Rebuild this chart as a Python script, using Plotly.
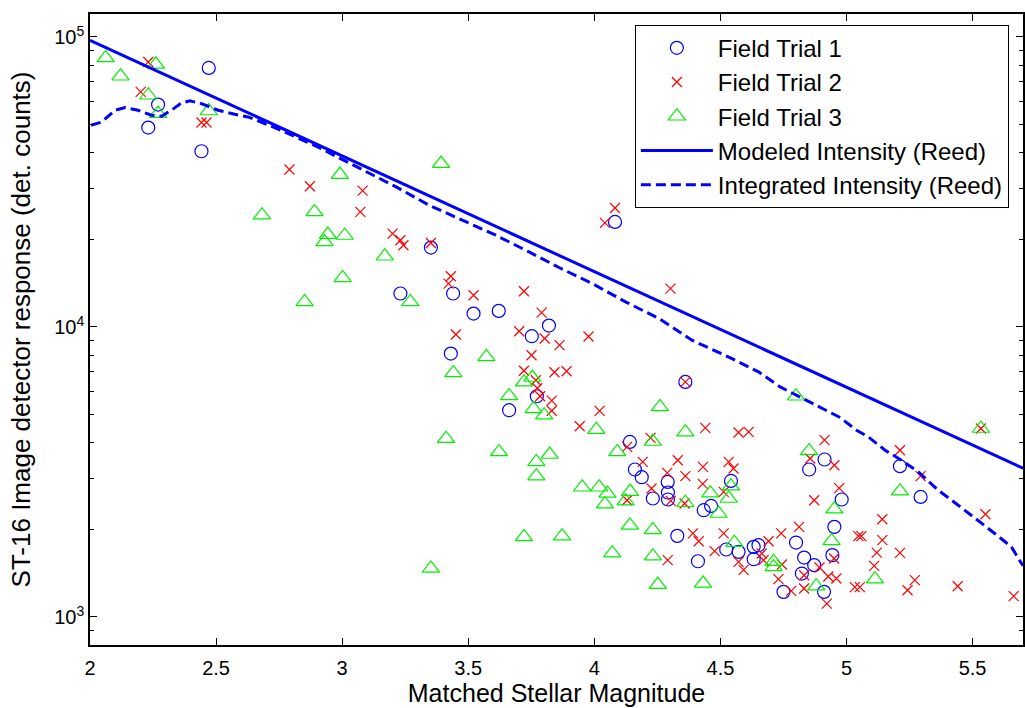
import plotly.graph_objects as go

# ---- Field Trial 1 (blue circles) ----
t1_mag = [2.471, 2.270, 2.231, 2.442, 4.082, 3.352, 3.231, 3.440, 3.521, 3.621,
          3.752, 3.820, 3.431, 3.772, 3.662, 4.361, 4.141, 4.161, 4.188, 4.291,
          4.232, 4.292, 4.292, 4.434, 4.463, 4.329, 4.411, 4.542, 4.523, 4.572,
          4.632, 4.651, 4.632, 4.800, 4.832, 4.872, 4.823, 4.750, 4.911, 4.852,
          4.913, 4.981, 4.952, 4.944, 5.212, 5.294]
t1_cnt = [78200, 58470, 48710, 40350, 23020, 18780, 13040, 13040, 11120, 11360,
          9290, 10110, 8095, 5768, 5162, 6462, 4013, 3224, 3032, 2921,
          2561, 2685, 2540, 2333, 2414, 1903, 1556, 2944, 1708, 1676,
          1744, 1767, 1581, 1805, 1602, 1508, 1411, 1220, 1220, 3224,
          3490, 2540, 2044, 1633, 3310, 2593]

# ---- Field Trial 2 (red crosses) ----
t2_mag = [2.231, 2.201, 2.442, 2.462, 2.791, 2.872, 3.081, 3.072, 3.200, 3.231,
          3.243, 3.352, 3.431, 3.422, 3.521, 3.721, 3.791, 3.702, 3.803, 3.862,
          3.977, 3.451, 3.751, 3.721, 3.842, 3.890, 3.768, 3.774, 3.785, 3.831,
          3.831, 3.942, 4.021, 4.082, 4.042, 4.302, 4.361, 4.130, 4.130, 4.223,
          4.440, 4.192, 4.331, 4.431, 4.289, 4.361, 4.430, 4.227, 4.303, 4.358,
          4.391, 4.414, 4.477, 4.291, 4.572, 4.612, 4.913, 4.856, 4.952, 4.533,
          4.552, 4.513, 4.971, 4.872, 4.812, 4.741, 4.513, 5.047, 5.059, 4.691,
          4.951, 4.664, 4.671, 4.572, 4.592, 4.744, 4.893, 4.832, 4.928, 4.960,
          4.730, 4.832, 4.781, 4.922, 5.033, 5.053, 5.212, 5.294, 5.533, 5.551,
          5.142, 5.142, 5.120, 5.212, 5.110, 5.271, 5.242, 5.441, 5.663]
t2_cnt = [81960, 64620, 50690, 50690, 34900, 30570, 29530, 24920, 20990, 19910,
          19130, 19480, 14950, 14110, 12860, 13280, 11210, 9665, 9120, 8650,
          9268, 9415, 7986, 7063, 6980, 7035, 6550, 6146, 5768, 5567,
          5140, 4545, 5133, 25720, 22840, 13560, 6462, 3857, 2526, 4142,
          4485, 3424, 3470, 3290, 3138, 3057, 2875, 2772, 2512, 2460,
          1940, 1824, 1685, 1569, 4324, 4345, 4068, 3517, 3335, 3424,
          3249, 2698, 2779, 2526, 2044, 1940, 1940, 1898, 1898, 1824,
          1590, 1654, 1569, 1548, 1453, 1516, 1480, 1392, 1378, 1357,
          1349, 1253, 1229, 1111, 1266, 1266, 3756, 3057, 4464, 2260,
          2172, 1839, 1665, 1663, 1499, 1339, 1236, 1276, 1179]

# ---- Field Trial 3 (green triangles) ----
t3_mag = [2.062, 2.121, 2.261, 2.231, 2.270, 2.471, 2.991, 2.682, 2.890, 2.943,
          2.930, 3.010, 3.169, 3.002, 2.851, 3.392, 3.270, 3.572, 3.441, 3.721,
          3.754, 3.662, 3.759, 3.801, 3.412, 4.008, 3.622, 3.823, 3.770, 3.770,
          4.091, 3.952, 4.019, 4.052, 4.042, 4.142, 4.124, 4.141, 3.721, 3.872,
          4.071, 3.352, 4.260, 4.361, 4.232, 4.361, 4.460, 4.232, 4.232, 4.252,
          4.431, 4.800, 4.852, 4.542, 4.533, 4.493, 4.952, 4.941, 4.555, 4.711,
          4.711, 4.880, 5.113, 5.212, 5.533]
t3_cnt = [84660, 73210, 80500, 62950, 54440, 55560, 33540, 24280, 24920, 20820,
          19640, 20670, 17530, 14760, 12200, 36600, 12200, 7880, 6940, 6447,
          6692, 5782, 5215, 4962, 4116, 4421, 3707, 3631, 3424, 3057,
          3707, 2800, 2800, 2665, 2447, 2706, 2506, 2067, 1888, 1898,
          1659, 1469, 5298, 4335, 4026, 2476, 2671, 1995, 1620, 1293,
          1306, 5768, 3736, 2823, 2561, 2273, 2352, 1829, 1803, 1550,
          1487, 1276, 1349, 2713, 4464]

# ---- Modeled intensity (Reed) ----
model_mag = [2.0, 5.7]
model_cnt = [97400, 3256]

# ---- Integrated intensity (Reed) ----
integ_mag = [2.004, 2.046, 2.099, 2.139, 2.191, 2.244, 2.284, 2.323, 2.363, 2.396,
             2.442, 2.508, 2.574, 2.626, 2.679, 2.772, 2.903, 3.036, 3.161, 3.214,
             3.345, 3.477, 3.609, 3.741, 3.860, 3.992, 4.124, 4.256, 4.387, 4.546,
             4.651, 4.737, 4.816, 4.909, 4.975, 5.040, 5.087, 5.153, 5.218, 5.285,
             5.364, 5.443, 5.522, 5.588, 5.654, 5.688, 5.700]
integ_cnt = [49620, 50900, 55870, 57100, 55870, 53700, 53300, 55900, 59200, 60200,
             58900, 55900, 54100, 53000, 50900, 47030, 41760, 36390, 32050, 30400,
             26280, 23330, 20720, 18140, 16030, 14110, 12200, 10690, 9000, 7780,
             7000, 6210, 5735, 5230, 4870, 4404, 4175, 3756, 3470, 3162,
             2735, 2428, 2155, 1940, 1744, 1569, 1500]

x_ticks = [2, 2.5, 3, 3.5, 4, 4.5, 5, 5.5]
x_ticktext = ["2", "2.5", "3", "3.5", "4", "4.5", "5", "5.5"]
y_ticks = [1e3, 1e4, 1e5]
y_ticktext = ["10<sup>3</sup>", "10<sup>4</sup>", "10<sup>5</sup>"]

FONT = "Liberation Sans, Arial, sans-serif"

fig = go.Figure()
fig.add_trace(go.Scatter(x=t1_mag, y=t1_cnt, mode="markers", name="Field Trial 1",
                         marker=dict(symbol="circle-open", size=13, color="#0000ff",
                                     line=dict(width=1.2, color="#0000ff"))))
fig.add_trace(go.Scatter(x=t2_mag, y=t2_cnt, mode="markers", name="Field Trial 2",
                         marker=dict(symbol="x-thin-open", size=10, color="#ff0000",
                                     line=dict(width=1.2, color="#ff0000"))))
fig.add_trace(go.Scatter(x=t3_mag, y=t3_cnt, mode="markers", name="Field Trial 3",
                         marker=dict(symbol="triangle-up-open", size=15, color="#00ee00",
                                     line=dict(width=1.2, color="#00ee00"))))
fig.add_trace(go.Scatter(x=model_mag, y=model_cnt, mode="lines",
                         name="Modeled Intensity (Reed)",
                         line=dict(color="#0000ff", width=3)))
fig.add_trace(go.Scatter(x=integ_mag, y=integ_cnt, mode="lines",
                         name="Integrated Intensity (Reed)",
                         line=dict(color="#0000ff", width=3, dash="10px,5px")))

fig.update_layout(
    width=1025, height=708,
    margin=dict(l=90, r=0, t=14, b=63),
    paper_bgcolor="white", plot_bgcolor="white",
    font=dict(family=FONT, size=20, color="black"),
    showlegend=True,
    legend=dict(x=0.584, y=0.983, xanchor="left", yanchor="top",
                bgcolor="white", bordercolor="black", borderwidth=1,
                font=dict(size=24, family=FONT), itemwidth=72,
                tracegroupgap=0),
)
fig.update_xaxes(range=[2, 5.7], tickvals=x_ticks, ticktext=x_ticktext,
                 ticks="inside", ticklen=7, tickcolor="black", tickwidth=1,
                 showline=True, linecolor="black", linewidth=1.5, mirror="allticks",
                 showgrid=False, zeroline=False, ticklabelstandoff=4,
                 title=dict(text="Matched Stellar Magnitude", font=dict(size=25), standoff=6),
                 tickfont=dict(size=20))
fig.update_yaxes(type="log", range=[2.9031, 5.0792], tickvals=y_ticks, ticktext=y_ticktext,
                 ticks="inside", ticklen=7, tickcolor="black", tickwidth=1,
                 minor=dict(ticks="inside", ticklen=4, tickcolor="black", dtick="D1"),
                 showline=True, linecolor="black", linewidth=1.5, mirror="allticks",
                 showgrid=False, zeroline=False,
                 title=dict(text="ST-16 Image detector response (det. counts)",
                            font=dict(size=26), standoff=16),
                 tickfont=dict(size=20))

fig.write_html("out.html", config={"displayModeBar": False},
               post_script="document.body.style.margin='0';")
